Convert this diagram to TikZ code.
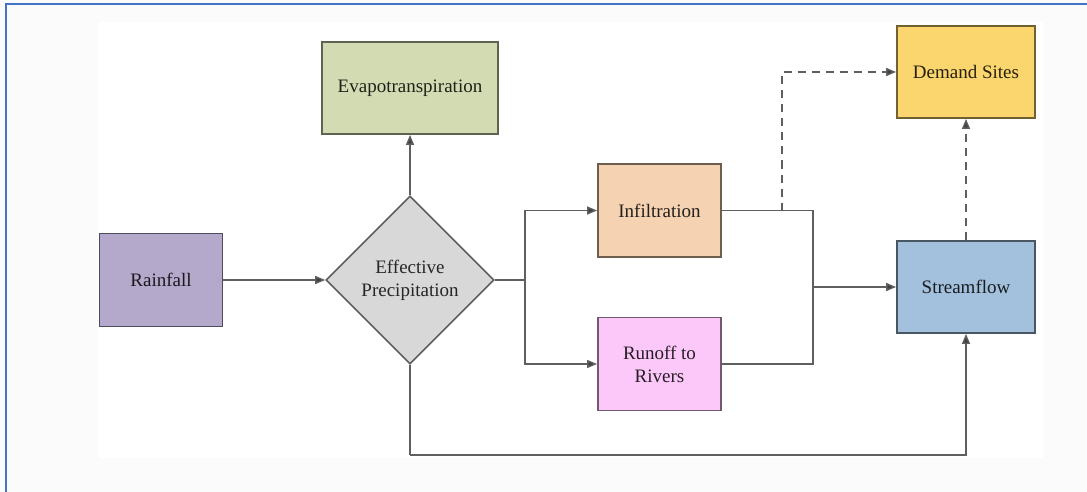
\documentclass[tikz,border=0pt]{standalone}
\usepackage{fontspec}
\setmainfont{Liberation Serif}
\usetikzlibrary{shapes.geometric,arrows.meta}

\definecolor{frameblue}{HTML}{4472C4}
\definecolor{edge}{HTML}{5F5F5F}
\definecolor{tipc}{HTML}{3F3F3F}
\definecolor{fevap}{HTML}{D3DBB3}
\definecolor{fdemand}{HTML}{FBD66E}
\definecolor{frain}{HTML}{B4A8CB}
\definecolor{fdiam}{HTML}{D8D8D8}
\definecolor{finf}{HTML}{F4D2B2}
\definecolor{frun}{HTML}{FCC8FA}
\definecolor{fstream}{HTML}{A3C1DC}

\tikzset{
  label font/.style={font=\fontsize{19}{23}\selectfont},
  box/.style={draw=#1!45!black, line width=1.8pt, rectangle, inner sep=0pt,
              align=center, label font, text=#1!15!black},
  flow/.style={draw=edge, line width=1.4pt, -{Triangle[length=10pt,width=8pt,fill=tipc]}},
  line/.style={draw=edge, line width=1.4pt},
  supply/.style={draw=edge, line width=1.4pt, dash pattern=on 8pt off 6pt,
                 -{Triangle[length=10pt,width=8pt,fill=tipc]}},
}

\begin{document}
\begin{tikzpicture}[x=1pt,y=-1pt]
  % page and frame
  \fill[gray!3] (0,0) rectangle (1087,492);
  \fill[white] (98,22) rectangle (1043,458);
  \useasboundingbox (0,0) rectangle (1087,492);
  \draw[frameblue, line width=2.6pt] (6,500) -- (6,4) -- (1095,4);

  % nodes
  \node[box=frain, fill=frain, minimum width=123pt, minimum height=93pt]
    (rain) at (161,280) {Rainfall};
  \node[diamond, draw=edge, line width=1.6pt, fill=fdiam, inner sep=0pt,
        minimum width=168pt, minimum height=168pt, align=center,
        label font, text=black!85]
    (eff) at (410,280) {Effective\\Precipitation};
  \node[box=fevap, fill=fevap, minimum width=176pt, minimum height=92pt]
    (evap) at (410,88) {Evapotranspiration};
  \node[box=finf, fill=finf, minimum width=123pt, minimum height=93pt]
    (inf) at (659.5,210.5) {Infiltration};
  \node[box=frun, fill=frun, minimum width=123pt, minimum height=93pt]
    (run) at (659.5,364) {Runoff to\\Rivers};
  \node[box=fstream, fill=fstream, minimum width=138pt, minimum height=92pt]
    (stream) at (966,287) {Streamflow};
  \node[box=fdemand, fill=fdemand, minimum width=138pt, minimum height=92pt]
    (demand) at (966,72) {Demand Sites};

  % junction points
  \coordinate (split) at (525,280);
  \coordinate (merge) at (813,287);
  \coordinate (tap) at (782,210.5);
  \coordinate (low) at (410,455);

  % connectors
  \draw[flow] (rain) -- (eff.west);
  \draw[flow] (eff.north) -- (evap);
  \draw[line] (eff.east) -- (split);
  \draw[flow] (split) |- (inf.west);
  \draw[flow] (split) |- (run.west);
  \draw[line] (inf.east) -| (merge);
  \draw[line] (run.east) -| (merge);
  \draw[flow] (merge) -- (stream.west);
  \draw[supply] (tap) |- (demand.west);
  \draw[supply] (stream.north) -- (demand.south);
  \draw[line] (eff.south) -- (low);
  \draw[flow] (low) -| (stream.south);
\end{tikzpicture}
\end{document}
